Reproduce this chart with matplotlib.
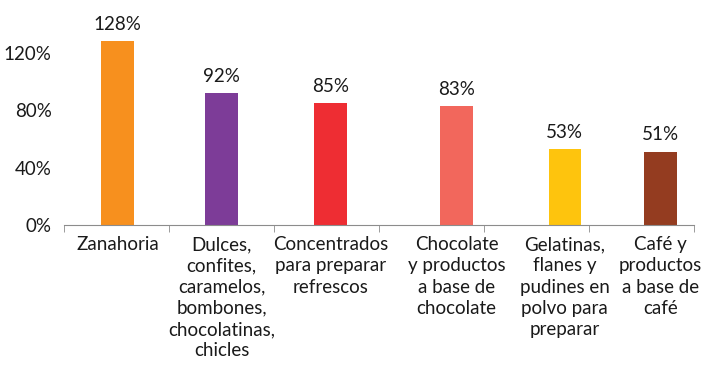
import matplotlib
matplotlib.use('Agg')
from matplotlib import pyplot as plt
import numpy as np

categories = ['Zanahoria',
              'Dulces,\nconfites,\ncaramelos,\nbombones,\nchocolatinas,\nchicles',
              'Concentrados\npara preparar\nrefrescos',
              'Chocolate\ny productos\na base de\nchocolate',
              'Gelatinas,\nflanes y\npudines en\npolvo para\npreparar',
              'Café y\nproductos\na base de\ncafé']
values = [128, 92, 85, 83, 53, 51]
colors = ['#F7901E', '#7D3C98', '#EE2D33', '#F2675C', '#FEC40D', '#943C20']
# bars sit a bit off-centre in their slots in the original
shift = [0.01, 0.0, 0.04, 0.24, 0.27, 0.18]

plt.rcParams['font.family'] = ['Lato', 'DejaVu Sans']
plt.rcParams['font.size'] = 13.5

fig = plt.figure(figsize=(7.09, 3.65), dpi=100)
ax = fig.add_axes([64/709, 140/365, 630/709, 201/365])

x = np.arange(len(values)) + np.array(shift)
bars = ax.bar(x, values, width=0.31, color=colors)
for xi, v in zip(x, values):
    ax.annotate(f'{v}%', (xi, v), xytext=(0, 6), textcoords='offset points',
                ha='center', va='bottom', color='#1a1a1a')

ax.set_xlim(-0.5, 5.5)
ax.set_ylim(0, 140)
ax.set_yticks([0, 40, 80, 120])
ax.set_yticklabels(['0%', '40%', '80%', '120%'])
ax.set_xticks(x)
ax.set_xticklabels(categories, linespacing=1.3, va='top')
ax.set_xticks(np.arange(-0.5, 6, 1), minor=True)

for s in ['top', 'right', 'left']:
    ax.spines[s].set_visible(False)
ax.spines['bottom'].set_color('#8c8c8c')
ax.tick_params(axis='y', length=0, pad=9, colors='#1a1a1a')
ax.tick_params(axis='x', which='major', length=0, pad=8, colors='#1a1a1a')
ax.tick_params(axis='x', which='minor', length=5, color='#8c8c8c')

fig.savefig('out.png', dpi=100)
